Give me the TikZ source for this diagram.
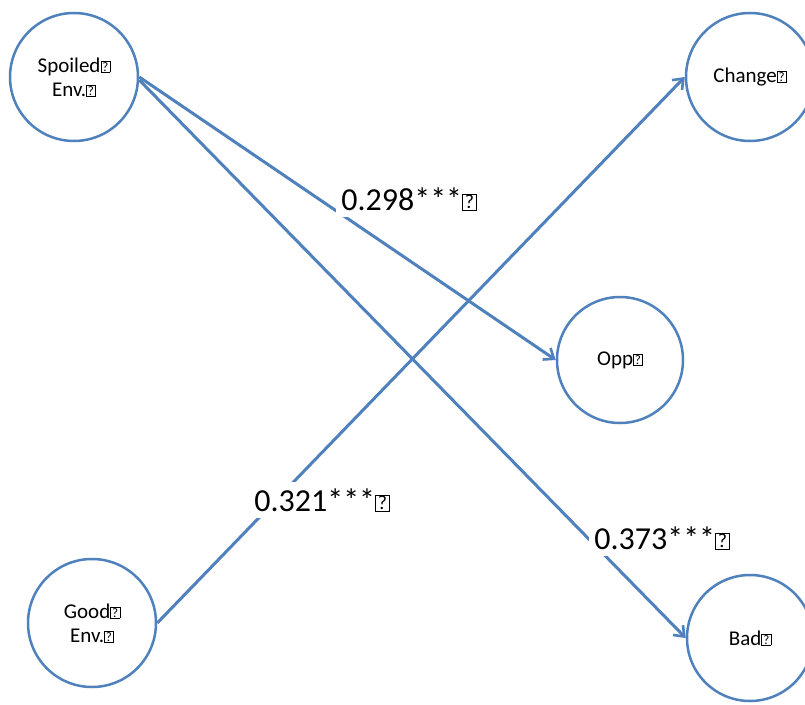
\documentclass[tikz,border=0pt]{standalone}
\usepackage{fontspec}
\setmainfont{Carlito}
\usetikzlibrary{arrows.meta}
\definecolor{ofblue}{HTML}{4F81BD}
\newcommand\mgbox{{\fboxsep=0pt\fboxrule=0.5pt\fbox{\vbox to 0.5em{\vss\hbox to 0.42em{\hss\scalebox{0.62}{?}\hss}\vss}}}}
\tikzset{
  var/.style={circle, draw=ofblue, line width=2.5pt, fill=white, minimum size=128pt, inner sep=0pt, align=center, font=\fontsize{21}{24}\selectfont},
  arr/.style={draw=ofblue, line width=3pt, -{Straight Barb[length=9pt,width=14pt,line width=2.6pt]}},
  coef/.style={fill=white, inner xsep=5pt, inner ysep=6pt, font=\fontsize{32}{36}\selectfont}
}
\begin{document}
\begin{tikzpicture}[x=1pt,y=-1pt]
\useasboundingbox (0,0) rectangle (805,704);
\fill[white] (0,0) rectangle (805,704);
\node[var] (sp) at (74,77) {Spoiled\mgbox\\Env.\mgbox};
\node[var] (ch) at (750,77) {Change\mgbox};
\node[var, minimum size=126pt] (opp) at (620,360) {Opp\mgbox};
\node[var] (gd) at (92,623) {Good\mgbox\\Env.\mgbox};
\node[var, minimum size=126pt] (bad) at (750,638) {Bad\mgbox};
\draw[arr] (sp.east) -- (opp.west);
\draw[arr] ([yshift=-3pt]sp.east) -- (bad.west);
\draw[arr] (gd.east) -- (ch.west);
\node[coef] (c1) at (409,199) {0.298***\mgbox};
\node[coef] (c2) at (322,500) {0.321***\mgbox};
\node[coef] (c3) at (662,538) {0.373***\mgbox};
\end{tikzpicture}
\end{document}
